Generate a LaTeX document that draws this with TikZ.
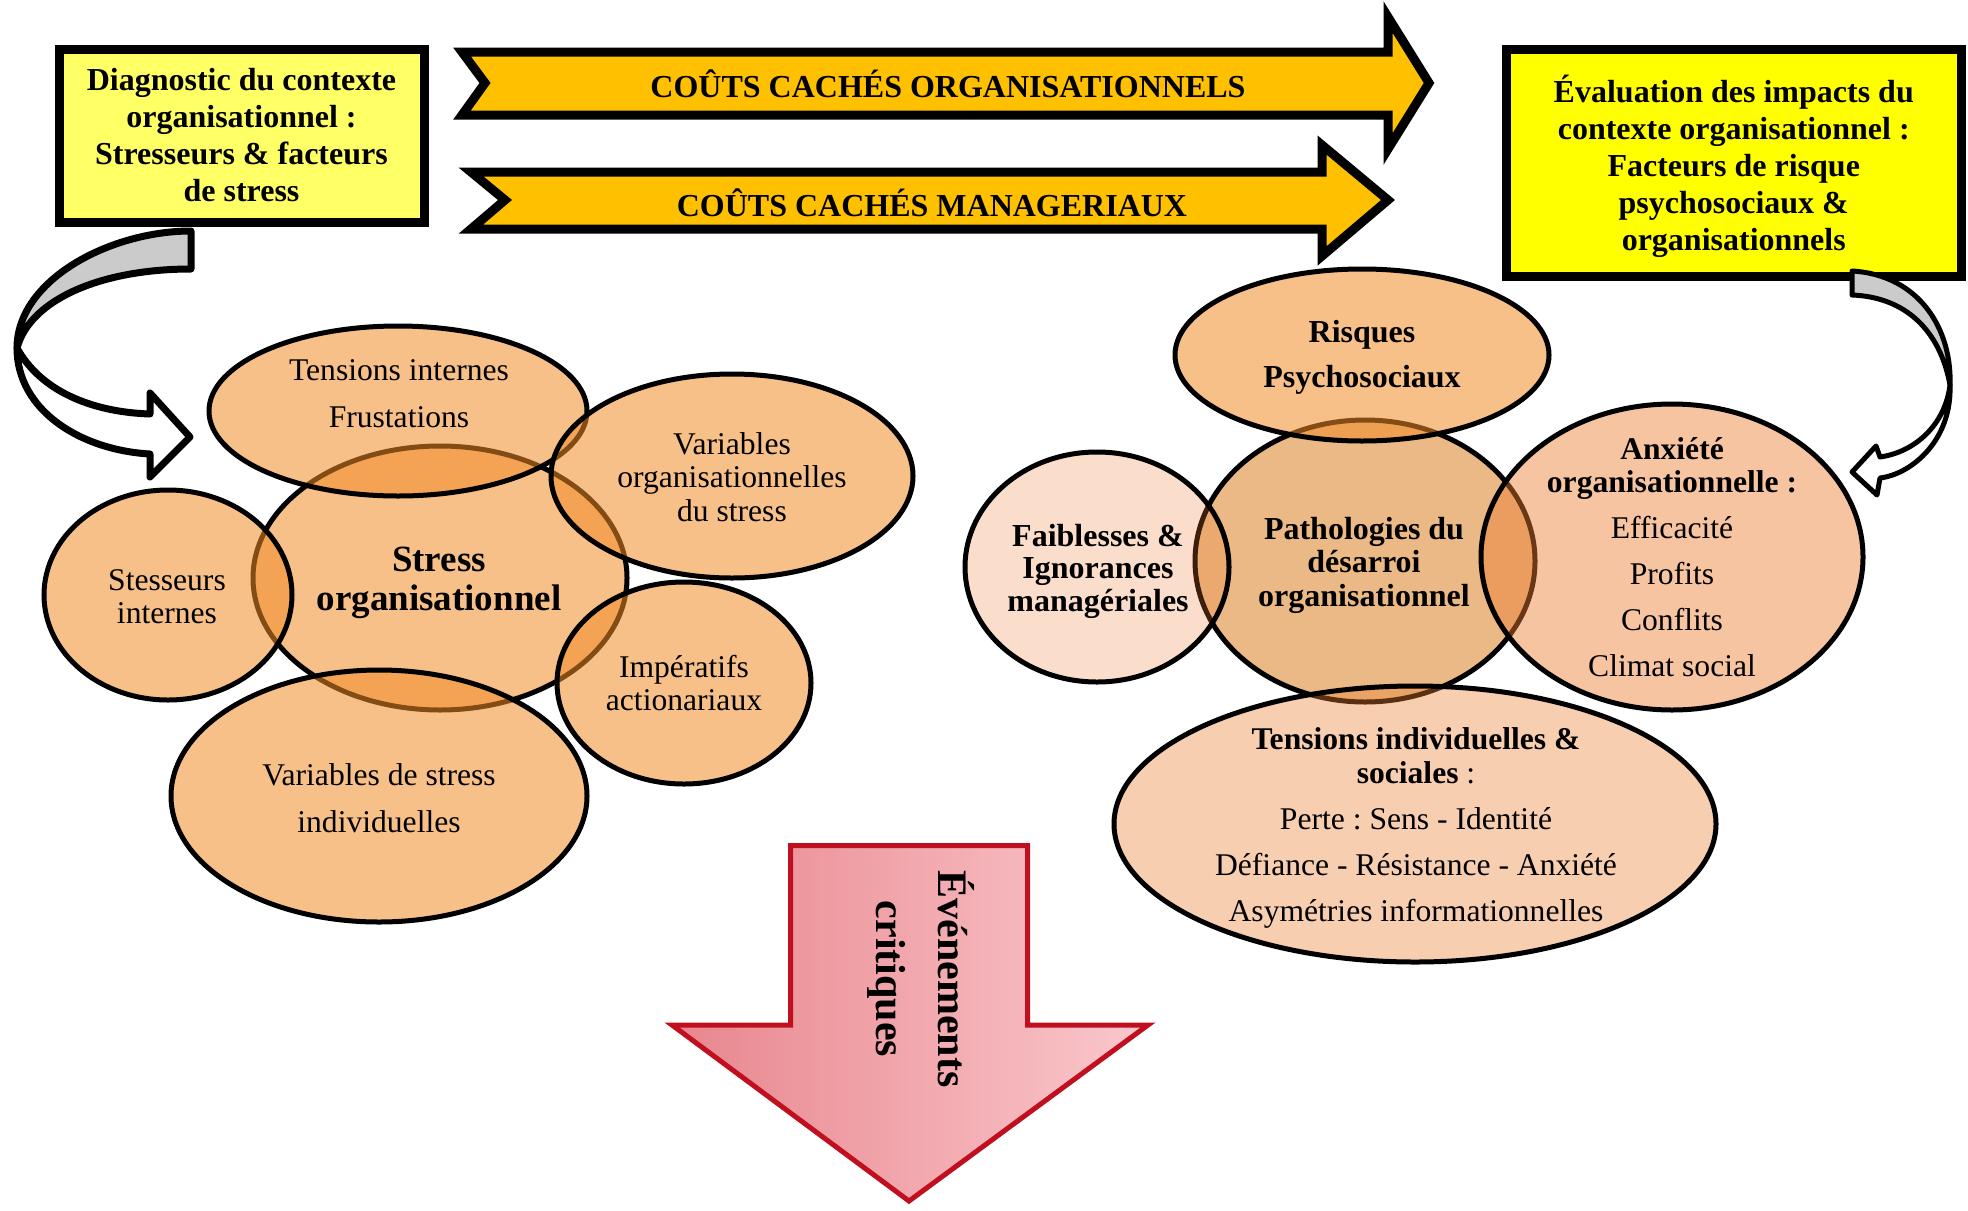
\documentclass[tikz,border=0pt]{standalone}
\usepackage{fontspec}
\setmainfont{Liberation Serif}
\usetikzlibrary{shapes.geometric}
\frenchspacing

\definecolor{paleyellow}{HTML}{FFFF66}
\definecolor{brightyellow}{HTML}{FFFF00}
\definecolor{bannerorange}{HTML}{FFC000}
\definecolor{bandgray}{HTML}{CBCBCB}
\definecolor{peach}{RGB}{247,192,137}
\definecolor{deeporange}{RGB}{240,140,40}
\definecolor{accentorange}{RGB}{237,125,49}
\definecolor{tanfill}{RGB}{235,185,133}
\definecolor{crimsonline}{RGB}{192,16,32}
\definecolor{pinkleft}{RGB}{232,134,142}
\definecolor{pinkright}{RGB}{250,200,204}

\newcommand\dgReg[1]{\fontsize{15.8pt}{#1}\selectfont}
\newcommand\dgBold[1]{\fontsize{16pt}{#1}\selectfont\bfseries}

\begin{document}
\begin{tikzpicture}[x=0.5pt,y=-0.5pt,
  bubble/.style={ellipse, draw=black, line width=2.5pt, inner sep=0pt, outer sep=0pt},
  veil/.style={bubble, fill opacity=#1},
  lbl/.style={align=center, inner sep=0pt},
  panel/.style={rectangle, draw=black, line width=4.5pt, align=center, inner sep=0pt},
  bannershape/.style={draw=black, line width=4.5pt, fill=bannerorange, line join=miter},
  curvedband/.style={draw=black, line join=round}]

\useasboundingbox (0,0) rectangle (1968,1210);

% ---------- headline boxes ----------
\node[panel, fill=paleyellow, minimum width=182.5pt, minimum height=86.5pt,
      font=\dgBold{18.5pt}] (diag) at (241.5,135.5)
  {Diagnostic du contexte\\organisationnel :\\Stresseurs \& facteurs\\de stress};
\node[panel, fill=brightyellow, minimum width=227.25pt, minimum height=113.25pt] (eval) at (1733.75,162.75) {};
\node[lbl, font=\dgBold{18.5pt}] (evalT) at (1733.75,166)
  {Évaluation des impacts du\\contexte organisationnel :\\Facteurs de risque\\psychosociaux \&\\organisationnels};

% ---------- hidden-cost banners ----------
\path[bannershape] (462,52) -- (1388,52) -- (1388,17) -- (1429,83) -- (1388,149)
  -- (1388,115) -- (462,115) -- (485,83) -- cycle;
\node[lbl, anchor=base, font=\dgBold{18pt}] (orgcost) at (948,97)
  {COÛTS CACHÉS ORGANISATIONNELS};
\path[bannershape] (471,172) -- (1322,172) -- (1322,145) -- (1388,200) -- (1322,256)
  -- (1322,229) -- (471,229) -- (505,200) -- cycle;
\node[lbl, anchor=base, font=\dgBold{18pt}] (mgtcost) at (932,216)
  {COÛTS CACHÉS MANAGERIAUX};

% ---------- curved arrow, left ----------
\path[curvedband, line width=3.5pt, fill=bandgray]
  (191,231) .. controls (110,231) and (17,280) .. (17,348)
  .. controls (30,300) and (100,269) .. (191,269) -- cycle;
\path[curvedband, line width=3.5pt, fill=white]
  (17,348) .. controls (40,390) and (90,412) .. (150,414)
  -- (150,393) -- (190,437) -- (150,477) -- (150,454)
  .. controls (80,450) and (17,410) .. (17,348) -- cycle;

% ---------- curved arrow, right ----------
\path[curvedband, line width=2.5pt, fill=bandgray]
  (1852,271) .. controls (1920,275) and (1952,330) .. (1950,385)
  .. controls (1940,330) and (1905,297) .. (1852,295) -- cycle;
\path[curvedband, line width=2.5pt, fill=white]
  (1950,385) .. controls (1945,425) and (1915,452) .. (1880,457)
  -- (1876,446) -- (1852,472) -- (1877,495) -- (1880,478)
  .. controls (1912,474) and (1952,440) .. (1950,385) -- cycle;

% ---------- stress cluster ----------
\node[bubble, fill=peach, minimum width=187pt, minimum height=132pt] (stress) at (440,578) {};
\node[veil=0.55, fill=deeporange, minimum width=189pt, minimum height=85pt] (tens) at (398,411) {};
\node[veil=0.55, fill=deeporange, minimum width=181pt, minimum height=102pt] (varorg) at (732,476) {};
\node[veil=0.55, fill=deeporange, minimum width=124pt, minimum height=105pt] (stess) at (168,595) {};
\node[veil=0.55, fill=deeporange, minimum width=127pt, minimum height=101pt] (imper) at (684,683) {};
\node[veil=0.55, fill=deeporange, minimum width=208pt, minimum height=126pt] (varind) at (379,796) {};

% ---------- disarray cluster ----------
\node[bubble, fill=tanfill, minimum width=170pt, minimum height=141pt] (patho) at (1365,561) {};
\node[veil=0.55, fill=deeporange, minimum width=187pt, minimum height=86pt] (risk) at (1362,355) {};
\node[veil=0.25, fill=accentorange, minimum width=132pt, minimum height=115pt] (weak) at (1097,567) {};
\node[veil=0.45, fill=accentorange, minimum width=191pt, minimum height=153pt] (anx) at (1672,557) {};
\node[veil=0.38, fill=accentorange, minimum width=301pt, minimum height=138pt] (tensind) at (1415,824) {};

% ---------- labels, stress cluster ----------
\node[lbl, font=\dgReg{23.5pt}] (tensT) at (399,394) {Tensions internes\\Frustations};
\node[lbl, font=\dgReg{16.75pt}] (varorgT) at (732,477) {Variables\\organisationnelles\\du stress};
\node[lbl, font={\fontsize{18.5pt}{19.5pt}\selectfont\bfseries}] (stressT) at (439,583) {Stress\\organisationnel};
\node[lbl, font=\dgReg{16.5pt}] (stessT) at (167,597) {Stesseurs\\internes};
\node[lbl, font=\dgReg{16.5pt}] (imperT) at (684,683) {Impératifs\\actionariaux};
\node[lbl, font=\dgReg{23.5pt}] (varindT) at (379,798) {Variables de stress\\individuelles};

% ---------- labels, disarray cluster ----------
\node[lbl, font=\dgBold{22.5pt}] (riskT) at (1362,357) {Risques\\Psychosociaux};
\node[lbl, font=\dgBold{16.25pt}] (weakT) at (1098,571) {Faiblesses \&\\Ignorances\\managériales};
\node[lbl, font=\dgBold{16.75pt}] (pathoT) at (1364,565) {Pathologies du\\désarroi\\organisationnel};
\node[lbl, font=\dgReg{16.5pt}] (anxT) at (1672,557)
  {\textbf{Anxiété}\\\textbf{organisationnelle :}\\[6.5pt]Efficacité\\[6.5pt]Profits\\[6.5pt]Conflits\\[6.5pt]Climat social};
\node[lbl, font=\dgReg{17pt}] (tensindT) at (1416,828)
  {\textbf{Tensions individuelles \&}\\\textbf{sociales} :\\[6pt]Perte : Sens - Identité\\[6pt]Défiance - Résistance - Anxiété\\[6pt]Asymétries informationnelles};

% ---------- critical events arrow ----------
\path[draw=crimsonline, line width=2.5pt, line join=miter, left color=pinkleft, right color=pinkright]
  (790.5,845.5) -- (1027.5,845.5) -- (1027.5,1025) -- (1148,1025) -- (909,1201)
  -- (672,1025) -- (790.5,1025) -- cycle;
\node[lbl, rotate=-90, font={\fontsize{21pt}{31pt}\selectfont\bfseries}] (events) at (921,979)
  {Événements\\critiques};

\end{tikzpicture}
\end{document}
